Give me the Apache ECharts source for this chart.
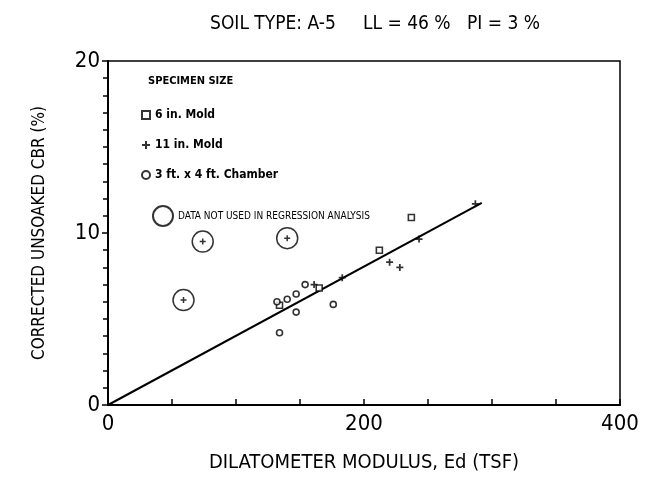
<!DOCTYPE html>
<html>
<head>
<meta charset="utf-8">
<script src="https://cdn.jsdelivr.net/npm/echarts@6/dist/echarts.min.js"></script>
<style>
html,body{margin:0;padding:0;background:#fff;}
#main{width:653px;height:490px;}
</style>
</head>
<body>
<div id="main"></div>
<script>
// 6 in. mold (squares)
let mold6 = [[134, 5.8], [165, 6.8], [212, 9.0], [237, 10.9]];
// 11 in. mold (crosses)
let mold11 = [[161, 7.0], [183, 7.4], [220, 8.3], [228, 8.0], [243, 9.65], [287, 11.7]];
// 3 ft x 4 ft chamber (small circles)
let chamber = [[132, 6.0], [140, 6.15], [147, 6.45], [154, 7.0], [147, 5.4], [134, 4.2], [176, 5.85]];
// points left out of the regression (circled)
let notUsed = [[59, 6.1], [74, 9.5], [140, 9.7]];
// regression line
let regLine = [[0, 0], [292, 11.75]];

let font = '"DejaVu Sans Condensed", "Liberation Sans Narrow", "Liberation Sans", sans-serif';
let crossPath = 'path://M3,0h2v3h3v2h-3v3h-2v-3h-3v-2h3z';

let chart = echarts.init(document.getElementById('main'), null, {renderer: 'canvas'});
let option = {
    backgroundColor: '#fff',
    animation: false,
    title: {
        text: 'SOIL TYPE: A-5     LL = 46 %   PI = 3 %',
        left: 370, top: 10, textAlign: 'center',
        textStyle: {fontFamily: font, fontSize: 19, fontWeight: 'normal', color: '#000'}
    },
    grid: {
        left: 108, right: 33, top: 61, bottom: 85,
        show: true, borderColor: '#000', borderWidth: 1.5
    },
    graphic: [{
        type: 'text', left: 148, top: 76,
        style: {text: 'SPECIMEN SIZE', fontFamily: font, fontSize: 11, fontWeight: 'bold', fill: '#000'}
    }],
    legend: [{
        data: ['6 in. Mold', '11 in. Mold', '3 ft. x 4 ft. Chamber'],
        orient: 'vertical', left: 136, top: 104, itemGap: 18,
        itemWidth: 8, itemHeight: 8,
        textStyle: {fontFamily: font, fontSize: 12, fontWeight: 'bold', color: '#000'}
    }, {
        data: ['DATA NOT USED IN REGRESSION ANALYSIS'],
        left: 147, top: 200, itemWidth: 20, itemHeight: 20, itemGap: 5,
        textStyle: {fontFamily: font, fontSize: 10, color: '#000'}
    }],
    xAxis: {
        type: 'value', min: 0, max: 400, interval: 200,
        name: 'DILATOMETER MODULUS, Ed (TSF)', nameLocation: 'middle', nameGap: 48,
        nameTextStyle: {fontFamily: font, fontSize: 20, color: '#000'},
        axisLine: {lineStyle: {color: '#000', width: 2}},
        axisTick: {inside: true, length: 6, lineStyle: {color: '#000', width: 1.5}},
        minorTick: {show: true, splitNumber: 4, length: 6, lineStyle: {color: '#000', width: 1.5}},
        axisLabel: {fontFamily: font, fontSize: 22, color: '#000', margin: 8},
        splitLine: {show: false}
    },
    yAxis: {
        type: 'value', min: 0, max: 20, interval: 10,
        name: 'CORRECTED UNSOAKED CBR (%)', nameLocation: 'middle', nameGap: 60,
        nameTextStyle: {fontFamily: font, fontSize: 17, color: '#000'},
        axisLine: {lineStyle: {color: '#000', width: 2}},
        axisTick: {length: 6, lineStyle: {color: '#000', width: 1.5}},
        minorTick: {show: true, splitNumber: 10, length: 5, lineStyle: {color: '#000', width: 1.5}},
        axisLabel: {fontFamily: font, fontSize: 22, color: '#000', margin: 8},
        splitLine: {show: false}
    },
    series: [{
        name: 'regression', type: 'line', data: regLine, showSymbol: false,
        lineStyle: {color: '#000', width: 2}, z: 2
    }, {
        name: '6 in. Mold', type: 'scatter', data: mold6, symbol: 'rect', symbolSize: 6,
        itemStyle: {color: '#fff', borderColor: '#000', borderWidth: 1.6}, z: 3
    }, {
        name: '11 in. Mold', type: 'scatter', data: mold11, symbol: crossPath, symbolSize: 7,
        itemStyle: {color: '#000'}, z: 3
    }, {
        name: '3 ft. x 4 ft. Chamber', type: 'scatter', data: chamber, symbol: 'circle', symbolSize: 6,
        itemStyle: {color: '#fff', borderColor: '#000', borderWidth: 1.6}, z: 3
    }, {
        name: 'notUsedCross', type: 'scatter', data: notUsed, symbol: crossPath, symbolSize: 6,
        itemStyle: {color: '#000'}, z: 3
    }, {
        name: 'DATA NOT USED IN REGRESSION ANALYSIS', type: 'scatter', data: notUsed,
        symbol: 'circle', symbolSize: 21,
        itemStyle: {color: 'rgba(0,0,0,0)', borderColor: '#000', borderWidth: 1.5}, z: 3
    }]
};
chart.setOption(option);
</script>
</body>
</html>
